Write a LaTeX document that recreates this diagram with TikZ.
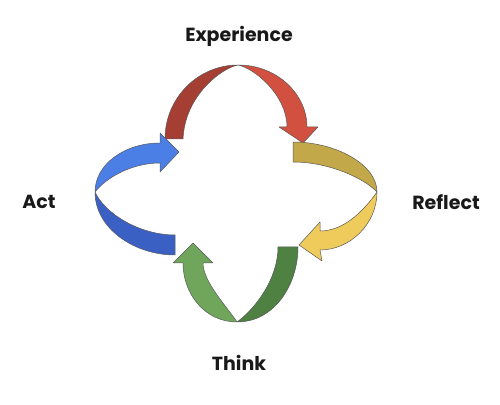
\documentclass[tikz,border=0pt]{standalone}
\usepackage{fontspec}
\setmainfont{Poppins}
\usetikzlibrary{positioning}
\definecolor{redA}{HTML}{A53F33}
\definecolor{redB}{HTML}{D2503F}
\definecolor{blueA}{HTML}{4B7FE5}
\definecolor{blueB}{HTML}{3B60C4}
\definecolor{yelA}{HTML}{C3A849}
\definecolor{yelB}{HTML}{EECB5B}
\definecolor{grnA}{HTML}{6FA65B}
\definecolor{grnB}{HTML}{4E8142}
\tikzstyle{half} = [draw=black!65,line width=0.5pt,line join=round]

\begin{document}
\begin{tikzpicture}
		[
		x=1pt,y=1pt,
		lbl/.style={
		font=\fontsize{19}{22}\selectfont\bfseries,
		text=black!90}
		]
		\useasboundingbox (0,0) rectangle (500,404);
		% Experience
		\draw[half,fill=redA] (165,265) .. controls (165,306) and (198,339) .. (238,339)
			.. controls (222,336) and (185,309) .. (183,265) -- cycle;
		\draw[half,fill=redB] (238,339) .. controls (278,339) and (307,309) .. (307,277)
			-- (318,277) -- (303,261) -- (279,277) -- (287,277)
			.. controls (287,309) and (254,336) .. (238,339) -- cycle;
		% Reflect
		\draw[half,fill=yelA] (293,262) .. controls (335,262) and (377,240) .. (377,212)
			.. controls (365,225) and (330,242) .. (293,242) -- cycle;
		\draw[half,fill=yelB] (377,212) .. controls (377,180) and (350,154) .. (320,154)
			-- (322,143) -- (299,159) -- (320,182) -- (320,173)
			.. controls (345,173) and (365,195) .. (377,212) -- cycle;
		% Think
		\draw[half,fill=grnB] (237,82) .. controls (275,82) and (298,120) .. (298,157)
			-- (278,157) .. controls (278,125) and (255,95) .. (237,82) -- cycle;
		\draw[half,fill=grnA] (237,82) .. controls (205,82) and (183,110) .. (183,141)
			-- (173,141) -- (193,161) -- (213,141) -- (203,141)
			.. controls (203,122) and (228,96) .. (237,82) -- cycle;
		% Act
		\draw[half,fill=blueB] (95,212) .. controls (95,175) and (135,149) .. (175,149)
			-- (175,169) .. controls (140,169) and (105,190) .. (95,212) -- cycle;
		\draw[half,fill=blueA] (95,212) .. controls (95,240) and (125,261) .. (160,261)
			-- (160,271) -- (179,252) -- (160,232) -- (160,241)
			.. controls (130,241) and (105,225) .. (95,212) -- cycle;
		% labels
		\node[lbl] (experience) at (239,368) {Experience};
		\node[lbl] (act) at (39,202) {Act};
		\node[lbl] (reflect) at (446,202) {Reflect};
		\node[lbl] (think) at (239,41) {Think};
\end{tikzpicture}
\end{document}
